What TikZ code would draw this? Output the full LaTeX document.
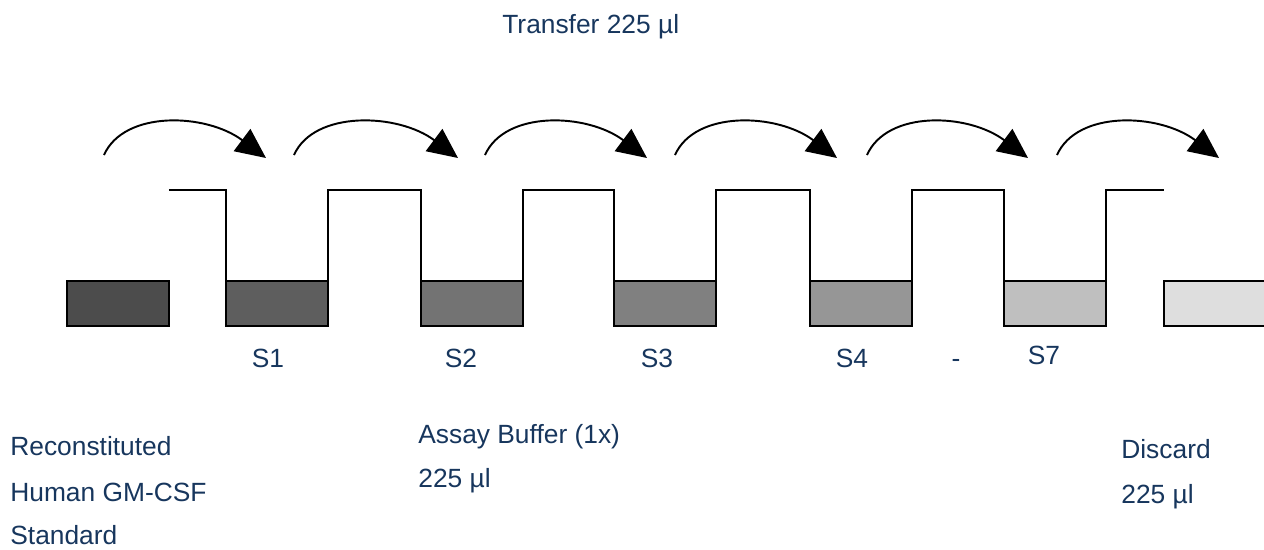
\documentclass[tikz,border=0pt]{standalone}
\usepackage{fontspec}
\setmainfont{Liberation Sans}
\usetikzlibrary{arrows.meta,positioning}
\definecolor{txtblue}{HTML}{17365D}

\begin{document}
\begin{tikzpicture}[x=0.02cm,y=-0.02cm,
 well/.style={draw,line width=1pt,minimum width=2.04cm,minimum height=0.9cm,inner sep=0pt,outer sep=0pt,anchor=north west},
 tube/.style={line width=0.8pt},
 transfer/.style={line width=1.1pt,-{Triangle[length=6mm,width=5.5mm]}},
 lbl/.style={text=txtblue,font=\fontsize{15}{18}\selectfont,inner sep=0pt}]
\useasboundingbox (0,0) rectangle (1264,549);

  \node[well,fill=black!70] (b0) at (67,281) {};
  \node[well,fill=black!63] (b1) at (226,281) {};
  \node[well,fill=black!55] (b2) at (421,281) {};
  \node[well,fill=black!50] (b3) at (614,281) {};
  \node[well,fill=black!41] (b4) at (810,281) {};
  \node[well,fill=black!25] (b5) at (1004,281) {};
  \node[well,fill=black!13] (b6) at (1164,281) {};

\coordinate (top) at (0,190);
\draw[tube] (b0.north east |- top) -- (b1.north west |- top) -- (b1.north west);
\foreach \a/\b in {1/2,2/3,3/4,4/5}
  \draw[tube] (b\a.north east) -- (b\a.north east |- top) -- (b\b.north west |- top) -- (b\b.north west);
\draw[tube] (b5.north east) -- (b5.north east |- top) -- (b6.north west |- top);

\foreach \i/\sx/\ex in {1/104/266,2/294/458,3/485/647,4/675/837,5/867/1028,6/1057/1219}{
  \coordinate (s\i) at (\sx,155);
  \coordinate (e\i) at (\ex,158);
  \draw[transfer] (s\i) .. controls +(20,-45) and +(-60,-45) .. (e\i);
}

\node[lbl,anchor=base west] (title) at (502,33) {Transfer 225 µl};

\node[lbl,anchor=base] (l1) at (268,367) {S1};
\node[lbl,anchor=base] (l2) at (461,367) {S2};
\node[lbl,anchor=base] (l3) at (657,367) {S3};
\node[lbl,anchor=base] (l4) at (852,367) {S4};
\node[lbl,anchor=base] (dash) at (956,367) {-};
\node[lbl,anchor=base] (l7) at (1044,364) {S7};

\node[lbl,anchor=base west] (std1) at (10,455) {Reconstituted};
\node[lbl,anchor=base west] (std2) at (10,501) {Human GM-CSF};
\node[lbl,anchor=base west] (std3) at (10,544) {Standard};

\node[lbl,anchor=base west] (buf1) at (418,443) {Assay Buffer (1x)};
\node[lbl,anchor=base west] (buf2) at (418,487) {225 µl};

\node[lbl,anchor=base west] (dis1) at (1121,458) {Discard};
\node[lbl,anchor=base west] (dis2) at (1121,503) {225 µl};
\end{tikzpicture}
\end{document}
